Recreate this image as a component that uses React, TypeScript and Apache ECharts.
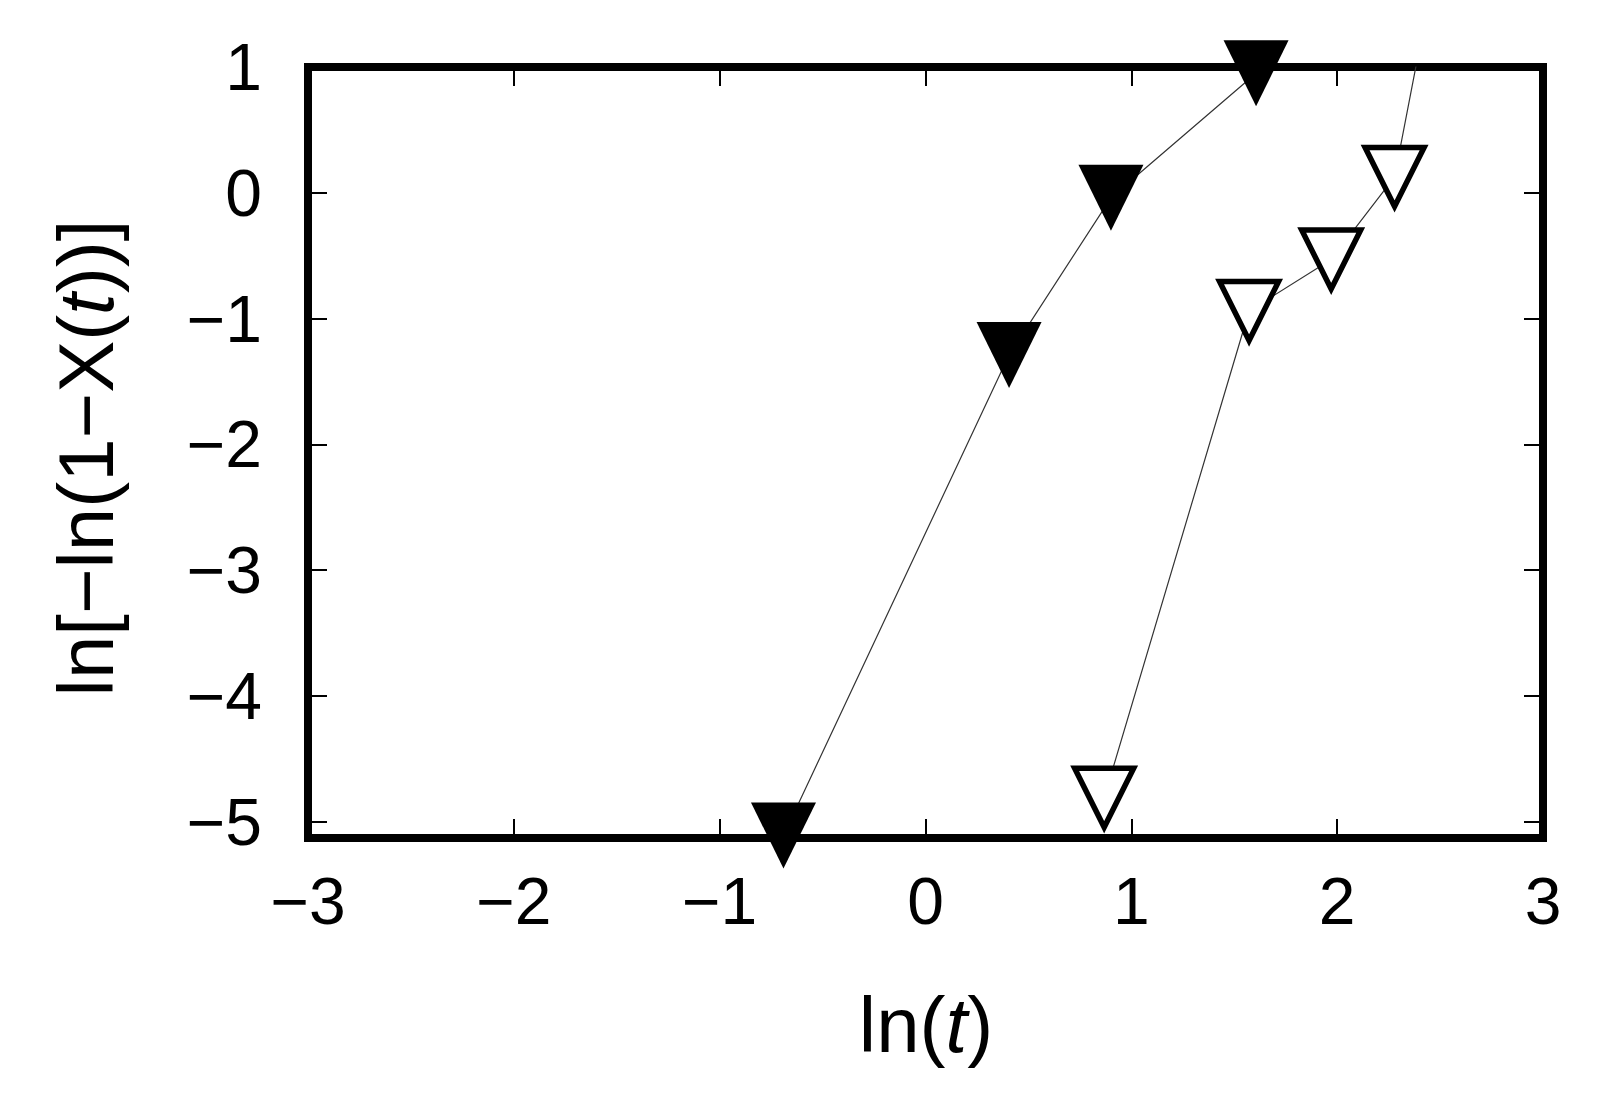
import React, { useEffect, useRef } from "react";
import * as echarts from "echarts";

// Filled triangles (series A)
const filledX = [-0.69, 0.406, 0.901, 1.606];
const filledY = [-5.11, -1.29, -0.04, 0.95];
// Open triangles (series B); last point lies above the frame and is clipped
const openX = [0.868, 1.572, 1.971, 2.279, 2.48];
const openY = [-4.81, -0.94, -0.53, 0.126, 1.83];

const xTicks = [-3, -2, -1, 0, 1, 2, 3];
const yTicks = [-5, -4, -3, -2, -1, 0, 1];

const FONT = "'Liberation Sans', Arial, Helvetica, sans-serif";

const fmt = (v: number) => (v < 0 ? "\u2212" + Math.abs(v) : String(v));

export default function App() {
  const ref = useRef<HTMLDivElement>(null);
  useEffect(() => {
    if (!ref.current) return;
    const chart = echarts.init(ref.current, null, { renderer: "svg" });
    const tickStyle = { show: true, inside: true, length: 19, lineStyle: { color: "#000", width: 2 } };
    const hiddenLine = { show: false, onZero: false };
    const option: any = {
      animation: false,
      backgroundColor: "#fff",
      grid: {
        left: 308,
        top: 67,
        right: 69,
        bottom: 267,
        show: true,
        borderWidth: 8,
        borderColor: "#000",
        backgroundColor: "transparent",
      },
      xAxis: [
        {
          type: "value",
          position: "bottom",
          min: -3,
          max: 3,
          interval: 1,
          axisLine: hiddenLine,
          splitLine: { show: false },
          axisTick: { ...tickStyle, customValues: xTicks },
          axisLabel: {
            customValues: xTicks,
            margin: 30,
            fontSize: 66,
            fontFamily: FONT,
            color: "#000",
            formatter: fmt,
          },
        },
        {
          type: "value",
          position: "top",
          min: -3,
          max: 3,
          interval: 1,
          axisLine: hiddenLine,
          splitLine: { show: false },
          axisTick: { ...tickStyle, customValues: xTicks },
          axisLabel: { show: false },
        },
      ],
      yAxis: [
        {
          type: "value",
          position: "left",
          min: -5.13,
          max: 1,
          axisLine: hiddenLine,
          splitLine: { show: false },
          axisTick: { ...tickStyle, customValues: yTicks },
          axisLabel: {
            customValues: yTicks,
            margin: 46,
            fontSize: 66,
            fontFamily: FONT,
            color: "#000",
            formatter: fmt,
          },
        },
        {
          type: "value",
          position: "right",
          min: -5.13,
          max: 1,
          axisLine: hiddenLine,
          splitLine: { show: false },
          axisTick: { ...tickStyle, customValues: yTicks },
          axisLabel: { show: false },
        },
      ],
      series: [
        {
          type: "line",
          xAxisIndex: 0,
          yAxisIndex: 0,
          clip: true,
          data: filledX.map((x, i) => [x, filledY[i]]),
          symbol: "triangle",
          symbolRotate: 180,
          symbolSize: [65, 66],
          itemStyle: { color: "#000" },
          lineStyle: { color: "#333", width: 1.2 },
          z: 3,
        },
        {
          type: "line",
          xAxisIndex: 0,
          yAxisIndex: 0,
          clip: true,
          data: openX.map((x, i) => [x, openY[i]]),
          symbol: "triangle",
          symbolRotate: 180,
          symbolSize: [59, 59],
          itemStyle: { color: "#fff", borderColor: "#000", borderWidth: 5.5 },
          lineStyle: { color: "#333", width: 1.2 },
          z: 3,
        },
      ],
      graphic: [
        {
          type: "text",
          x: 926,
          y: 1025,
          style: {
            text: "{a|ln(}{b|t}{a|)}",
            align: "center",
            verticalAlign: "middle",
            fontSize: 78,
            fontFamily: FONT,
            fill: "#000",
            rich: {
              a: { fontSize: 78, fontFamily: FONT, fill: "#000" },
              b: { fontSize: 78, fontFamily: FONT, fontStyle: "italic", fill: "#000" },
            },
          },
        },
        {
          type: "text",
          x: 86,
          y: 458,
          rotation: Math.PI / 2,
          style: {
            text: "{a|ln[\u2212ln(1\u2212X(}{b|t}{a|))]}",
            align: "center",
            verticalAlign: "middle",
            fontSize: 78,
            fontFamily: FONT,
            fill: "#000",
            rich: {
              a: { fontSize: 78, fontFamily: FONT, fill: "#000" },
              b: { fontSize: 78, fontFamily: FONT, fontStyle: "italic", fill: "#000" },
            },
          },
        },
      ],
    };
    chart.setOption(option);
    return () => chart.dispose();
  }, []);
  return (
    <div
      ref={ref}
      style={{ position: "fixed", left: 0, top: 0, width: 1612, height: 1105, background: "#fff" }}
    />
  );
}
